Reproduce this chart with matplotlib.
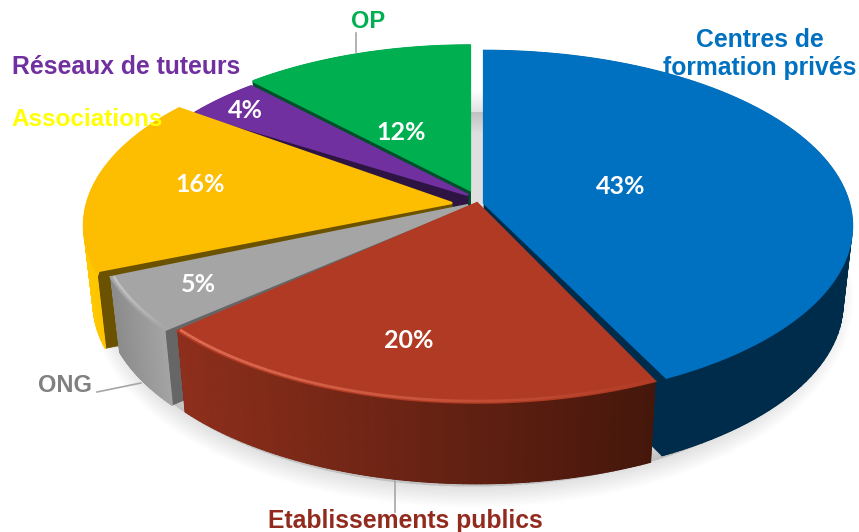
import numpy as np
import matplotlib
matplotlib.use("Agg")
import matplotlib.pyplot as plt
from matplotlib.collections import PolyCollection, LineCollection
from matplotlib.colors import to_rgb

categories = ["Centres de\nformation privés", "Etablissements publics", "ONG",
              "Associations", "Réseaux de tuteurs", "OP"]
shares = [43, 20, 5, 16, 4, 12]

top_colors = ["#0070C0", "#B03A23", "#A5A5A5", "#FDBD00", "#7030A0", "#00B050"]
wall_left = ["#002C4C", "#8E2F1C", "#8C8C8C", "#FFC800", "#2E1443", "#00502A"]
wall_right = ["#002C4C", "#45170B", "#A4A4A4", "#EDAE00", "#2E1443", "#00502A"]
cut_colors = ["#002C4C", "#45170B", "#666666", "#6B5200", "#2E1443", "#00502A"]
label_colors = ["#0070C0", "#922B1E", "#808080", "#FFFF00", "#7030A0", "#00B050"]

# look of the exploded 3d pie, in pixels
tip_x = [484, 477, 468, 452, 468, 470]
tip_y = [203, 203, 205, 203, 195, 190]
radius_scale = [1.0, 1.01, 1.01, 1.0, 0.95, 0.95]
start_nudge = [0, 0, 2, 3, 0, 0]
stop_nudge = [-1, 1, 2, 4, 0, 0]
wall_height = [78, 81, 75, 77, 70, 70]
draw_order = [5, 4, 3, 0, 2, 1]
rim_colors = {1: "#E8775C", 2: "#CFCFCF"}
radius_x, radius_y, tilt = 365, 172, 0.13
bottom_shrink = 0.975

plt.rcParams["font.family"] = ["Liberation Sans", "DejaVu Sans"]
fig = plt.figure(figsize=(8.59, 5.32), dpi=100)
ax = fig.add_axes([0, 0, 1, 1])
ax.set_xlim(0, 859)
ax.set_ylim(532, 0)
ax.axis("off")


def project(theta, cx, cy, scale=1.0):
    # theta in degrees, clockwise from the top
    t = np.radians(theta)
    u, v = np.sin(t) * scale, np.cos(t) * scale
    den = 1 + tilt * np.cos(t)
    return cx + radius_x * u / den, cy - radius_y * v / den


def drop(x, y, cx, h):
    return cx + (x - cx) * bottom_shrink, y + h


def mix(c1, c2, f):
    a, b = np.array(to_rgb(c1)), np.array(to_rgb(c2))
    return tuple(a + (b - a) * f)


# soft shadow under the whole pie
th = np.linspace(0, 360, 200)
sx, sy = project(th, 472, 205)
sx = 472 + (sx - 472) * 0.98
sy = 205 + (sy - 205) * 1.07 + 70
for i in range(16):
    ax.fill(sx, sy, fc="#000000", ec="#000000", lw=2.0 * i, alpha=0.006, zorder=1,
            joinstyle="round")

edges = np.cumsum([0] + shares) * 3.6
z = 2
for i in draw_order:
    a0 = edges[i] + start_nudge[i]
    a1 = edges[i + 1] + stop_nudge[i]
    th = np.linspace(a0, a1, 90)
    cx, cy, sc, h = tip_x[i], tip_y[i], radius_scale[i], wall_height[i]
    x, y = project(th, cx, cy, sc)
    xb, yb = drop(x, y, cx, h)

    # two cut walls
    for k in [0, -1]:
        ax.fill([cx, x[k], xb[k], cx], [cy, y[k], yb[k], cy + h],
                fc=cut_colors[i], ec=cut_colors[i], lw=0.5, zorder=z)
    # outer wall, solid base first then thin strips for the gradient
    mid = mix(wall_left[i], wall_right[i], 0.5)
    ax.fill(np.r_[x, xb[::-1]], np.r_[y, yb[::-1]], fc=mid, ec=mid, lw=0.5, zorder=z)
    quads, cols = [], []
    for j in range(len(th) - 1):
        quads.append([(x[j], y[j]), (x[j + 1], y[j + 1]), (xb[j + 1], yb[j + 1]), (xb[j], yb[j])])
        f = (x[j] - x.min()) / (x.max() - x.min())
        cols.append(mix(wall_left[i], wall_right[i], f))
    ax.add_collection(PolyCollection(quads, facecolors=cols, edgecolors=cols, linewidths=1.0, zorder=z))
    # top face, the wider edge hides the wall strokes behind it
    ax.fill(np.r_[cx, x], np.r_[cy, y], fc=top_colors[i], ec=top_colors[i], lw=1.6, zorder=z + 0.5)
    # light bevel along the rim
    if i in rim_colors:
        xr, yr = project(th, cx, cy, sc * 0.992)
        segs = [[(xr[j], yr[j]), (xr[j + 1], yr[j + 1])] for j in range(len(th) - 1)]
        fade = 1 - (xr[:-1] - xr.min()) / (xr.max() - xr.min())
        rgb = to_rgb(rim_colors[i])
        ax.add_collection(LineCollection(segs, colors=[(*rgb, 0.05 + 0.8 * f) for f in fade],
                                         linewidths=2.0, zorder=z + 0.6))
    z += 1

# percent values on the slices
pct_x = [621, 409, 198, 200, 245, 401]
pct_y = [186, 341, 285, 185, 111, 132]
for v, px, py in zip(shares, pct_x, pct_y):
    ax.text(px, py, f"{v}%", color="white", fontsize=18, fontweight="bold", family="Lato",
            ha="center", va="center", zorder=50)

# category labels
label_x = [760, 405, 65, 87.5, 126, 368]
label_y = [54, 521, 386, 120, 67, 22]
label_size = [17.8, 17.8, 17, 17.5, 17.8, 17]
for name, c, lx, ly, fs in zip(categories, label_colors, label_x, label_y, label_size):
    ax.text(lx, ly, name, color=c, fontsize=fs, fontweight="bold", ha="center", va="center",
            linespacing=1.23, zorder=50)

# leader lines
ax.plot([356, 356], [33, 52], color="#A6A6A6", lw=1.2, zorder=40)
ax.plot([97, 141], [392, 383], color="#A6A6A6", lw=1.2, zorder=40)
ax.plot([395, 395], [481, 512], color="#A6A6A6", lw=1.2, zorder=40)

fig.savefig("out.png", dpi=100)
